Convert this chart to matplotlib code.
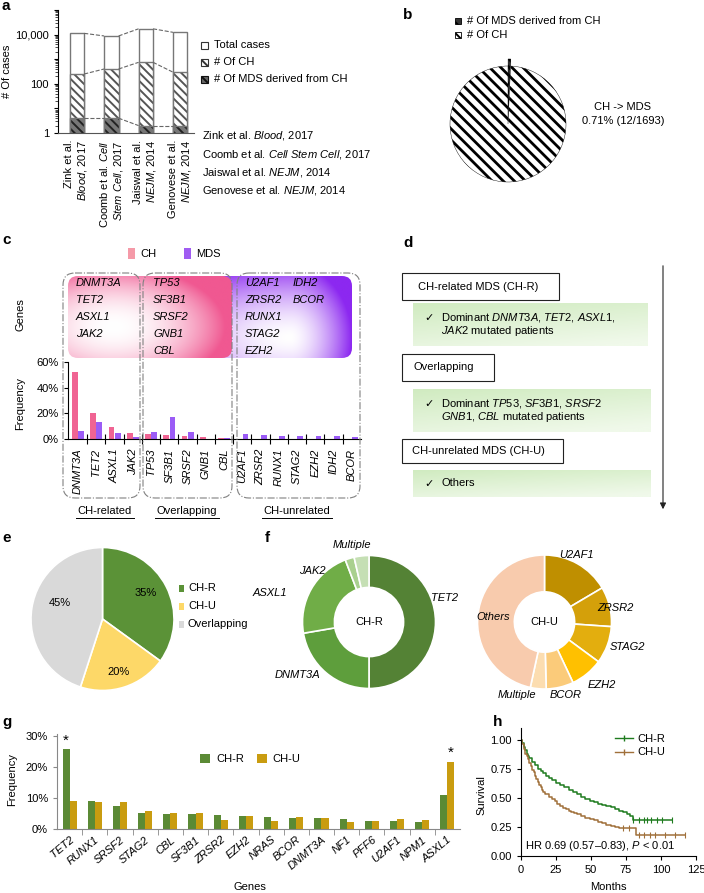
import numpy as np
import matplotlib
matplotlib.use("Agg")
import matplotlib.pyplot as plt
from matplotlib.patches import Rectangle, FancyBboxPatch
from matplotlib.lines import Line2D
from matplotlib.ticker import LogLocator, FixedLocator, FuncFormatter, NullFormatter

plt.rcParams['font.family'] = ['Liberation Sans', 'DejaVu Sans']
plt.rcParams['font.size'] = 8
plt.rcParams['mathtext.fontset'] = 'custom'
plt.rcParams['mathtext.rm'] = 'Liberation Sans'
plt.rcParams['mathtext.it'] = 'Liberation Sans:italic'
plt.rcParams['mathtext.bf'] = 'Liberation Sans:bold'
plt.rcParams['axes.linewidth'] = 0.8
plt.rcParams['xtick.major.width'] = 0.8
plt.rcParams['ytick.major.width'] = 0.8
plt.rcParams['xtick.major.size'] = 3
plt.rcParams['ytick.major.size'] = 3
plt.rcParams['hatch.linewidth'] = 1.4

W, H = 704, 893

# ---------------- data ----------------
# a: published CH cohorts
study_ticks = ["Zink et al.\n$\\mathit{Blood}$, 2017",
               "Coomb et al. $\\mathit{Cell}$\n$\\mathit{Stem\\ Cell}$, 2017",
               "Jaiswal et al.\n$\\mathit{NEJM}$, 2014",
               "Genovese et al.\n$\\mathit{NEJM}$, 2014"]
study_refs = ["Zink et al. $\\mathit{Blood}$, 2017",
              "Coomb et al. $\\mathit{Cell\\ Stem\\ Cell}$, 2017",
              "Jaiswal et al. $\\mathit{NEJM}$, 2014",
              "Genovese et al. $\\mathit{NEJM}$, 2014"]
total_cases = [11262, 8810, 17182, 12380]
ch_cases = [250, 400, 746, 297]
mds_cases = [4, 4, 2, 2]
a_legend = ['Total cases', '# Of CH', '# Of MDS derived from CH']

# b: CH -> MDS
b_values = [12, 1681]
b_legend = ['# Of MDS derived from CH', '# Of CH']

# c: gene frequency in CH vs MDS
c_genes = ['DNMT3A', 'TET2', 'ASXL1', 'JAK2', 'TP53', 'SF3B1', 'SRSF2', 'GNB1',
           'CBL', 'U2AF1', 'ZRSR2', 'RUNX1', 'STAG2', 'EZH2', 'IDH2', 'BCOR']
c_ch = [52, 20, 9, 4.5, 4, 3, 2, 1.5, 1, 0, 0, 0, 0, 0, 0, 0]
c_mds = [6, 13, 5, 1.5, 5.5, 17, 5.5, 0.3, 1, 4, 3, 2.5, 2.5, 2, 2, 1.5]
c_groups = ['CH-related', 'Overlapping', 'CH-unrelated']
c_col1 = ['DNMT3A', 'TET2', 'ASXL1', 'JAK2']
c_col2 = ['TP53', 'SF3B1', 'SRSF2', 'GNB1', 'CBL']
c_col3 = ['U2AF1', 'ZRSR2', 'RUNX1', 'STAG2', 'EZH2']
c_col4 = ['IDH2', 'BCOR']

# d: classification
d_heads = ['CH-related MDS (CH-R)', 'Overlapping', 'CH-unrelated MDS (CH-U)']
d_notes = [["Dominant $\\mathit{DNMT3A}$, $\\mathit{TET2}$, $\\mathit{ASXL1}$,",
            "$\\mathit{JAK2}$ mutated patients"],
           ["Dominant $\\mathit{TP53}$, $\\mathit{SF3B1}$, $\\mathit{SRSF2}$",
            "$\\mathit{GNB1}$, $\\mathit{CBL}$ mutated patients"],
           ["Others"]]

# e: subgroup shares
e_labels = ['CH-R', 'CH-U', 'Overlapping']
e_values = [35, 20, 45]

# f: gene composition of subgroups
fr_labels = ['TET2', 'DNMT3A', 'ASXL1', 'JAK2', 'Multiple']
fr_values = [50, 22.3, 21.9, 2.2, 3.6]
fu_labels = ['U2AF1', 'ZRSR2', 'STAG2', 'EZH2', 'BCOR', 'Multiple', 'Others']
fu_values = [16.5, 9.6, 9.0, 7.9, 6.6, 3.8, 46.6]

# g: mutation frequency CH-R vs CH-U
g_genes = ['TET2', 'RUNX1', 'SRSF2', 'STAG2', 'CBL', 'SF3B1', 'ZRSR2', 'EZH2',
           'NRAS', 'BCOR', 'DNMT3A', 'NF1', 'PFF6', 'U2AF1', 'NPM1', 'ASXL1']
g_chr = [25.7, 9.0, 7.5, 5.2, 4.7, 4.7, 4.5, 4.3, 4.0, 3.6, 3.4, 3.1, 2.6, 2.5, 2.1, 11.0]
g_chu = [9.1, 8.8, 8.8, 5.8, 5.0, 5.0, 3.0, 4.2, 2.6, 4.0, 3.6, 2.1, 2.6, 3.1, 2.8, 21.7]

# h: survival
km_r_t = [0, 1, 2, 3, 4, 5, 6, 8, 10, 12, 14, 16, 18, 20, 22, 25, 28, 31, 34, 37,
          40, 43, 46, 49, 52, 55, 58, 61, 64, 67, 70, 73, 76, 78, 80, 108]
km_r_s = [1.00, 0.97, 0.94, 0.91, 0.88, 0.86, 0.84, 0.81, 0.78, 0.75, 0.73, 0.71,
          0.69, 0.67, 0.65, 0.63, 0.61, 0.59, 0.57, 0.55, 0.53, 0.51, 0.49, 0.47,
          0.46, 0.45, 0.44, 0.43, 0.42, 0.40, 0.39, 0.38, 0.36, 0.34, 0.31, 0.31]
km_u_t = [0, 1, 2, 3, 4, 5, 6, 7, 8, 9, 10, 11, 12, 13, 14, 15, 16, 17, 18, 20, 22,
          24, 26, 28, 30, 32, 34, 36, 38, 40, 43, 46, 49, 52, 55, 58, 61, 64, 67,
          70, 82, 117]
km_u_s = [1.0, 0.96, 0.92, 0.88, 0.86, 0.83, 0.80, 0.77, 0.74, 0.72, 0.69, 0.66,
          0.64, 0.61, 0.59, 0.57, 0.55, 0.53, 0.53, 0.51, 0.49, 0.47, 0.45, 0.43,
          0.41, 0.40, 0.39, 0.38, 0.37, 0.36, 0.34, 0.33, 0.32, 0.31, 0.29, 0.28,
          0.27, 0.26, 0.25, 0.24, 0.18, 0.18]
cens_r_t = [80, 84, 88, 90, 93, 97, 101, 108]
cens_r_s = [0.31] * 8
cens_u_t = [73, 77, 84, 88, 92, 96, 103, 110, 117]
cens_u_s = [0.24, 0.24, 0.18, 0.18, 0.18, 0.18, 0.18, 0.18, 0.18]

PINK, PURPLE = '#F06493', '#9B5CF6'
GREEN_R, GOLD_U = '#5B8A35', '#C99C10'

fig = plt.figure(figsize=(W / 100, H / 100), dpi=100)
ov = fig.add_axes([0, 0, 1, 1], zorder=10)
ov.axis('off')


def px_axes(x0, y0, x1, y1):
    return fig.add_axes([x0 / W, 1 - y1 / H, (x1 - x0) / W, (y1 - y0) / H])


def plabel(x, y, s):
    ov.text(x, y, s, fontsize=11, weight='bold', va='center', ha='left')


def fill_box(x0, y0, x1, y1, shade, rgb0, rgb1, r=10):
    X, Y = np.meshgrid(np.linspace(0, 1, 240), np.linspace(0, 1, 120))
    t = np.clip(shade(X, Y), 0, 1)[..., None]
    img = np.array(rgb0) / 255 * (1 - t) + np.array(rgb1) / 255 * t
    im = ov.imshow(img, extent=(x0, x1, y1, y0), interpolation='bilinear', zorder=1)
    clip = FancyBboxPatch((x0, y0), x1 - x0, y1 - y0,
                          boxstyle=f'round,pad=0,rounding_size={r}', fc='none', ec='none')
    ov.add_patch(clip)
    im.set_clip_path(clip)


def pie_axes(cx, cy, r, pad=1.15):
    return px_axes(cx - r * pad, cy - r * pad, cx + r * pad, cy + r * pad)


def finish_pie(ax, pad=1.15):
    ax.set_aspect('auto')
    ax.set_xlim(-pad, pad)
    ax.set_ylim(-pad, pad)
    ax.axis('off')


# ---------------- a ----------------
plabel(2, 6, 'a')
ax = px_axes(58, 10, 194, 133)
xa = np.arange(len(total_cases))
bw = 0.42
ax.bar(xa, total_cases, bw, color='white', edgecolor='#777777', lw=1)
ax.bar(xa, ch_cases, bw, color='white', edgecolor='#555555', hatch='\\\\\\\\', lw=0)
ax.bar(xa, ch_cases, bw, fill=False, edgecolor='#777777', lw=1)
ax.bar(xa, mds_cases, bw, color='#777777', edgecolor='#222222', hatch='\\\\\\\\', lw=0)
ax.bar(xa, mds_cases, bw, fill=False, edgecolor='#777777', lw=1)
for vals in (total_cases, ch_cases, mds_cases):
    for i in range(len(vals) - 1):
        ax.plot([xa[i] + bw / 2, xa[i + 1] - bw / 2], [vals[i], vals[i + 1]],
                ls='--', color='#666666', lw=0.8)
ax.set_yscale('log')
ax.set_ylim(1, 1e5)
ax.set_xlim(-0.55, 3.4)
ax.yaxis.set_major_locator(LogLocator(base=10, numticks=10))
ax.yaxis.set_minor_locator(LogLocator(base=10, subs=np.arange(2, 10), numticks=10))
ax.yaxis.set_minor_formatter(NullFormatter())
ax.yaxis.set_major_formatter(FuncFormatter(
    lambda v, p: '{:,}'.format(int(round(v))) if round(np.log10(v)) % 2 == 0 else ''))
ax.tick_params(axis='y', which='minor', length=2, width=0.5)
ax.set_xticks(xa)
ax.set_xticklabels(study_ticks, rotation=90, ha='center', va='top', ma='right')
ax.tick_params(axis='x', length=0, pad=5)
for s in ('top', 'right'):
    ax.spines[s].set_visible(False)
ax.spines['bottom'].set_color('#555555')
ax.set_ylabel('# Of cases', labelpad=2)

a_styles = [dict(fc='white', ec='#333333', hatch=None),
            dict(fc='white', ec='#333333', hatch='\\\\\\\\'),
            dict(fc='#666666', ec='#111111', hatch='\\\\\\\\')]
for i, (lab, st) in enumerate(zip(a_legend, a_styles)):
    y = 45 + i * 17
    ov.add_patch(Rectangle((201, y - 3.5), 7, 7, lw=0.8, **st))
    ov.text(214, y, lab, va='center')
for i, ref in enumerate(study_refs):
    ov.text(202, 136 + i * 18.3, ref, va='center')

# ---------------- b ----------------
plabel(403, 15, 'b')
ax = pie_axes(508, 124, 58, pad=1.3)
wedges, _ = ax.pie(b_values, startangle=90, counterclock=False, explode=[0.12, 0],
                   colors=['#333333', 'white'])
wedges[0].set(hatch='\\\\\\\\', edgecolor='black', lw=0.4)
wedges[1].set(hatch='\\\\\\', edgecolor='black', lw=0.3)
for w in wedges:
    if hasattr(w, 'set_hatch_linewidth'):
        w.set_hatch_linewidth(2.0)
finish_pie(ax, pad=1.3)
b_styles = [dict(fc='#333333', ec='black', hatch='\\\\\\'), dict(fc='white', ec='black', hatch='\\\\\\')]
for i, (lab, st) in enumerate(zip(b_legend, b_styles)):
    y = 21 + i * 14
    ov.add_patch(Rectangle((455, y - 3), 6, 6, lw=0.6, **st))
    ov.text(467, y, lab, va='center')
ov.text(623, 107, 'CH -> MDS', ha='center', va='center')
ov.text(623, 121, '0.71% (12/1693)', ha='center', va='center')

# ---------------- c ----------------
plabel(2, 240, 'c')
ov.add_patch(Rectangle((128, 248), 7, 11, fc='#F59AA8', ec='none'))
ov.text(140, 254, 'CH', va='center')
ov.add_patch(Rectangle((184, 248), 7, 11, fc='#A05CF2', ec='none'))
ov.text(196, 254, 'MDS', va='center')


def purple_shade(X, Y):
    dx = np.where(X > 0.55, (X - 0.55) / 0.45, (0.55 - X) / 1.2)
    dy = (Y - 0.75) / 0.9
    return np.sqrt(dx ** 2 + dy ** 2) ** 1.6


def pink_shade(X, Y):
    return np.sqrt(((X - 0.28) / 0.68) ** 2 + ((Y - 0.62) / 0.75) ** 2) ** 2.0


fill_box(215, 276, 352, 358, purple_shade, (255, 255, 255), (140, 40, 240))
fill_box(68, 276, 232, 358, pink_shade, (255, 255, 255), (240, 88, 145))

for col, x in ((c_col1, 76), (c_col2, 153), (c_col3, 245), (c_col4, 293)):
    for j, g in enumerate(col):
        ov.text(x, 283 + j * 17, g, style='italic', va='center', zorder=3)

for (x0, x1) in ((63, 140), (143, 232), (237, 360)):
    ov.add_patch(FancyBboxPatch((x0, 273), x1 - x0, 225,
                                boxstyle='round,pad=0,rounding_size=12', fc='none',
                                ec='#808080', lw=0.8, ls='-.', zorder=4))
for lab, xc in zip(c_groups, (105, 187, 297)):
    ov.text(xc, 511, lab, ha='center', va='center')
    ov.plot([xc - len(lab) * 2.9, xc + len(lab) * 2.9], [517.5, 517.5], color='black', lw=0.7)
ov.text(20, 315, 'Genes', rotation=90, ha='center', va='center')

ax = px_axes(68, 362, 361, 439)
xc_ = np.arange(len(c_genes))
ax.bar(xc_ - 0.17, c_ch, 0.32, color=PINK)
ax.bar(xc_ + 0.17, c_mds, 0.32, color=PURPLE)
ax.set_xlim(-0.55, 15.5)
ax.set_ylim(0, 60)
ax.set_yticks([0, 20, 40, 60])
ax.set_yticklabels(['0%', '20%', '40%', '60%'])
ax.set_xticks(xc_)
ax.set_xticklabels(c_genes, rotation=90, style='italic', va='top')
ax.tick_params(axis='x', which='major', length=0, pad=7)
ax.xaxis.set_minor_locator(FixedLocator(np.arange(0.5, 15.5, 1)))
ax.tick_params(axis='x', which='minor', length=7, direction='inout', width=0.8)
for s in ('top', 'right'):
    ax.spines[s].set_visible(False)
ov.text(20, 404, 'Frequency', rotation=90, ha='center', va='center')

# ---------------- d ----------------
plabel(403, 243, 'd')


def green_shade(X, Y):
    return 0.75 * Y + 0.35 * X


d_heads_box = [(402, 273, 559, 300), (402, 354, 494, 381), (402, 439, 563, 463)]
d_heads_tx = [418, 413, 412]
d_green = [(413, 303, 648, 346), (413, 389, 651, 432), (413, 470, 651, 497)]
for head, (x0, y0, x1, y1), tx, g, notes in zip(d_heads, d_heads_box, d_heads_tx, d_green, d_notes):
    ov.add_patch(Rectangle((x0, y0), x1 - x0, y1 - y0, fc='white', ec='#222222', lw=0.8))
    ov.text(tx, (y0 + y1) / 2, head, va='center')
    fill_box(*g, green_shade, (208, 235, 192), (240, 249, 234), r=0.1)
    gy = (g[1] + g[3]) / 2 - (len(notes) - 1) * 7
    ov.text(424, gy, '\u2713', family='DejaVu Sans', va='center', fontsize=8)
    for k, line in enumerate(notes):
        ov.text(441, gy + k * 14, line, va='center')
ov.annotate('', xy=(663, 512), xytext=(663, 263),
            arrowprops=dict(arrowstyle='-|>', color='#222222', lw=0.8, mutation_scale=9))

# ---------------- e ----------------
plabel(2, 538, 'e')
ax = pie_axes(102.5, 619, 71.5, pad=1.05)
ax.pie(e_values, colors=['#5B9237', '#FDD868', '#D9D9D9'], startangle=90,
       counterclock=False, wedgeprops=dict(edgecolor='white', lw=1.2))
finish_pie(ax, pad=1.05)
for v, (x, y) in zip(e_values, [(146, 593), (119, 672), (60, 603)]):
    ov.text(x, y, f'{v}%', ha='center', va='center')
for i, (lab, c) in enumerate(zip(e_labels, ['#5B9237', '#FDD868', '#D9D9D9'])):
    y = 588 + i * 18
    ov.add_patch(Rectangle((179, y - 3.5), 5, 7, fc=c, ec='none'))
    ov.text(188, y, lab, va='center')

# ---------------- f ----------------
plabel(265, 538, 'f')
ax = pie_axes(369, 622, 66.5, pad=1.05)
ax.pie(fr_values, colors=['#548235', '#5E9E3C', '#70AD47', '#A9D08E', '#C5DFB4'],
       startangle=90, counterclock=False,
       wedgeprops=dict(width=0.48, edgecolor='white', lw=1.2))
finish_pie(ax, pad=1.05)
ov.text(369, 622, 'CH-R', ha='center', va='center')
for lab, (x, y) in zip(fr_labels, [(431, 598), (275, 675), (253, 593), (299, 571), (333, 545)]):
    ov.text(x, y, lab, style='italic', va='center', ha='left')

ax = pie_axes(544.5, 622, 67, pad=1.05)
ax.pie(fu_values, colors=['#BF8F00', '#D4A00A', '#E3AE0E', '#FFC000', '#FBCB7A', '#FCDDB0', '#F8CBAD'],
       startangle=90, counterclock=False,
       wedgeprops=dict(width=0.55, edgecolor='white', lw=1.2))
finish_pie(ax, pad=1.05)
ov.text(544.5, 622, 'CH-U', ha='center', va='center')
for lab, (x, y) in zip(fu_labels, [(559, 555), (597, 608), (610, 647), (588, 685),
                                    (550, 695), (498, 695), (476, 617)]):
    ov.text(x, y, lab, style='italic', va='center', ha='left', zorder=5)

# ---------------- g ----------------
plabel(2, 722, 'g')
ax = px_axes(57, 734, 460, 829)
xg = np.arange(len(g_genes))
ax.bar(xg - 0.14, g_chr, 0.28, color=GREEN_R, label='CH-R')
ax.bar(xg + 0.14, g_chu, 0.28, color=GOLD_U, label='CH-U')
for i in (0, len(g_genes) - 1):
    ax.text(i + (-0.14 if g_chr[i] > g_chu[i] else 0.14), max(g_chr[i], g_chu[i]) + 0.6,
            '*', ha='center', va='bottom', fontsize=11)
ax.set_xlim(-0.5, 15.5)
ax.set_ylim(0, 30.6)
ax.set_yticks([0, 10, 20, 30])
ax.set_yticklabels(['0%', '10%', '20%', '30%'])
ax.set_xticks(xg)
ax.set_xticklabels(g_genes, rotation=40, ha='right', rotation_mode='anchor', style='italic')
ax.tick_params(axis='x', which='major', length=0, pad=4)
ax.xaxis.set_minor_locator(FixedLocator(np.arange(0.5, 15.5, 1)))
ax.tick_params(axis='x', which='minor', length=4, width=0.6, color='#888888')
ax.spines['left'].set_color('#888888')
ax.spines['bottom'].set_color('#888888')
ax.tick_params(axis='y', color='#888888')
for s in ('top', 'right'):
    ax.spines[s].set_visible(False)
ax.legend(loc='upper center', bbox_to_anchor=(0.48, 0.9), ncol=2, frameon=False,
          handlelength=0.9, handleheight=1.0, columnspacing=1.2, handletextpad=0.5)
ov.text(12, 780, 'Frequency', rotation=90, ha='center', va='center')
ov.text(250, 887, 'Genes', ha='center', va='center')

# ---------------- h ----------------
plabel(493, 722, 'h')
ax = px_axes(521, 728, 696, 856)
ax.step(km_r_t, km_r_s, where='post', color='#1E7B1E', lw=1.1)
ax.step(km_u_t, km_u_s, where='post', color='#A0703A', lw=1.1)
ax.plot(cens_r_t, cens_r_s, ls='none', marker='|', ms=4, mew=0.8, color='#1E7B1E')
ax.plot(cens_u_t, cens_u_s, ls='none', marker='|', ms=4, mew=0.8, color='#A0703A')
ax.set_xlim(0, 125)
ax.set_ylim(0, 1.1)
ax.set_xticks([0, 25, 50, 75, 100, 125])
ax.set_yticks([0, 0.25, 0.5, 0.75, 1.0])
ax.set_yticklabels(['0.00', '0.25', '0.50', '0.75', '1.00'])
for s in ('top', 'right'):
    ax.spines[s].set_visible(False)
handles = [Line2D([], [], color='#1E7B1E', lw=1, marker='|', ms=4),
           Line2D([], [], color='#A0703A', lw=1, marker='|', ms=4)]
ax.legend(handles, ['CH-R', 'CH-U'], loc='upper right', bbox_to_anchor=(0.88, 1.03),
          frameon=False, handlelength=1.6, handletextpad=0.4, labelspacing=0.3)
ax.text(3, 0.09, 'HR 0.69 (0.57\u20130.83), $\\mathit{P}$ < 0.01', va='center')
ov.text(481, 795, 'Survival', rotation=90, ha='center', va='center')
ov.text(608, 887, 'Months', ha='center', va='center')

ov.set_xlim(0, W)
ov.set_ylim(H, 0)
ov.set_aspect('auto')
fig.savefig('out.png', dpi=100)
